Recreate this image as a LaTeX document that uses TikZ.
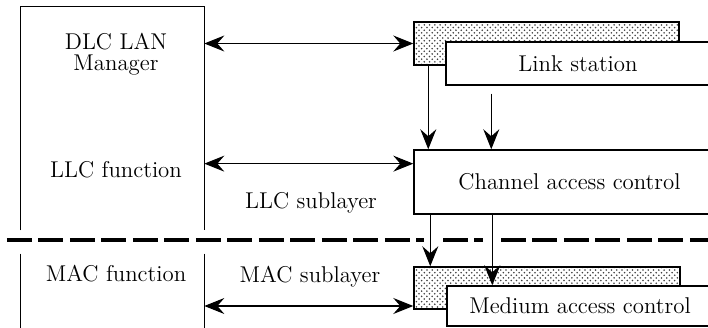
\documentclass[tikz,border=0pt]{standalone}
\usepackage{tikz}
\usetikzlibrary{arrows.meta,positioning,calc,patterns}
\tikzset{
  box/.style={
    draw, fill=white, line width=0.85pt, inner sep=0pt,
    align=center, font=\fontsize{13}{12}\selectfont
  },
  shadebox/.style={
    draw, line width=0.85pt, inner sep=0pt,
    pattern=crosshatch dots, pattern color=black!75
  },
  panel/.style={inner sep=0pt},
  label/.style={inner sep=1pt, align=center, font=\fontsize{13}{12}\selectfont},
  arrow/.style={-{Stealth[length=0.4cm, width=0.32cm, inset=0.14cm]}, line width=0.6pt},
  dblarrow/.style={{Stealth[length=0.4cm, width=0.32cm, inset=0.14cm]}-{Stealth[length=0.4cm, width=0.32cm, inset=0.14cm]}, line width=0.6pt},
  sublayer/.style={line width=2.8pt, dash pattern=on 0.5cm off 0.13cm}
}

\begin{document}
\begin{tikzpicture}[x=0.02cm, y=-0.02cm]
    \useasboundingbox (0,0) rectangle (708,328);

    % left column
    \node[panel, minimum width=3.66cm, minimum height=4.46cm] (mgr) at (112.5,118.5) {};
    \draw[line width=0.85pt] (mgr.south west) |- (mgr.north east) -- (mgr.south east);
    \node[panel, minimum width=3.66cm, minimum height=1.62cm] (macpanel) at (112.5,294.5) {};
    \draw[line width=0.85pt] (macpanel.north west) -- (macpanel.south west)
      (macpanel.north east) -- (macpanel.south east);

    \node[label] (dlc) at (116,54) {DLC LAN\\Manager};
    \node[label] (llcfn) at (116,170) {LLC function};
    \node[label] (macfn) at (116,274) {MAC function};
    \node[label] (llcsub) at (311,203) {LLC sublayer};
    \node[label] (macsub) at (310,277) {MAC sublayer};

    % right column
    \node[shadebox, minimum width=5.3cm, minimum height=0.86cm] (lshade) at (546.5,43.5) {};
    \node[box, minimum width=5.28cm, minimum height=0.86cm] (lst) at (578,63.5) {Link station};
    \node[box, minimum width=6.22cm, minimum height=1.28cm] (chan) at (569.5,182) {Channel access control};
    \node[shadebox, minimum width=5.32cm, minimum height=0.84cm] (mshade) at (547,288) {};
    \node[box, minimum width=5.32cm, minimum height=0.8cm] (med) at (580,306) {Medium access control};

    % sublayer boundary
    \draw[sublayer] (7,240) -- (424,240);
    \draw[sublayer] (443,240) -- (483,240);
    \draw[sublayer] (501,240) -- (708,240);

    % connectors
    \draw[dblarrow] (mgr.east |- lshade.west) -- (lshade.west);
    \coordinate (llcin) at ($(chan.north west)!0.22!(chan.south west)$);
    \draw[dblarrow] (mgr.east |- llcin) -- (llcin);
    \draw[dblarrow] (macpanel.east |- med.west) -- (mshade.west |- med.west);

    \coordinate (d1) at ($(lshade.south west)+(15,0)$);
    \draw[arrow] (d1) -- (d1 |- chan.north);
    \coordinate (d2) at ($(lst.south west)+(46,8)$);
    \draw[arrow] (d2) -- (d2 |- chan.north);
    \coordinate (d3) at ($(chan.south west)+(17,0)$);
    \draw[arrow] (d3) -- (d3 |- mshade.north);
    \coordinate (d4) at ($(chan.south west)+(79,0)$);
    \draw[arrow] (d4) -- (d4 |- med.north);
\end{tikzpicture}
\end{document}
